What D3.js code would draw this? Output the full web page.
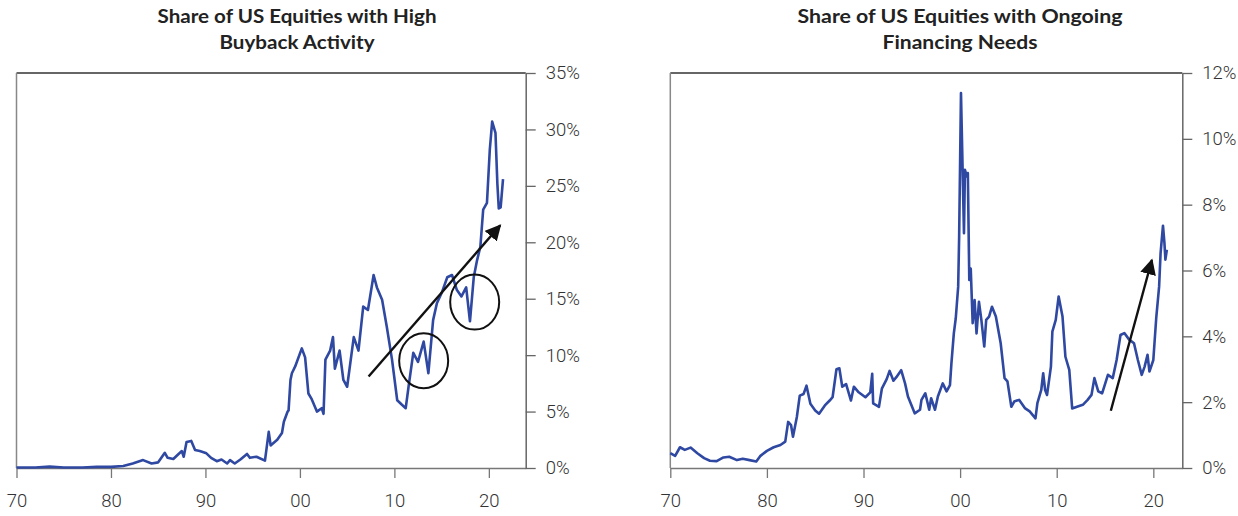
<!DOCTYPE html>
<html lang="en">
    <head>
        <meta charset="utf-8" />
        <title>Buybacks vs Financing Needs</title>
        <script src="https://cdnjs.cloudflare.com/ajax/libs/d3/7.7.0/d3.min.js"></script>
        <style>
          body { margin: 0; background: #fff; }
          .tick text { font-family: "Roboto", "Open Sans", sans-serif; font-weight: 300; font-size: 18.5px; fill: #333; }
          .title { font-family: "Lato", "Open Sans", sans-serif; font-weight: 700; font-size: 18px; fill: #222; }
        </style>
    </head>
    <body>
        <div id="chart"></div>
        <script>
// ---- data (year, % of US equities) ----
const buybackYears = [1970, 1972, 1973.5, 1975, 1977, 1978.5, 1980, 1981.3, 1982.3, 1983.4, 1984.3, 1985, 1985.7, 1986, 1986.6,
  1987.1, 1987.5, 1987.7, 1988, 1988.5, 1988.9, 1989.4, 1990.1, 1990.6, 1991.2, 1991.7, 1992.3, 1992.6, 1993.1, 1993.7,
  1994.4, 1994.7, 1995.4, 1996.3, 1996.7, 1996.9, 1997.6, 1998.1, 1998.3, 1998.7, 1998.8, 1999.0, 1999.15, 1999.5, 2000.2,
  2000.55, 2000.9, 2001.25, 2001.8, 2002.3, 2002.5, 2002.7, 2003.2, 2003.5, 2003.7, 2004.2, 2004.6, 2005.0, 2005.7, 2006.2,
  2006.7, 2007.2, 2007.8, 2008.15, 2008.7, 2009.2, 2009.75, 2010.3, 2010.8, 2011.2, 2011.5, 2012.0, 2012.5, 2013.1, 2013.6,
  2014.1, 2014.5, 2015.0, 2015.6, 2016.1, 2016.6, 2017.1, 2017.6, 2018.0, 2018.4, 2018.75, 2019.1, 2019.4, 2019.8, 2020.1,
  2020.35, 2020.7, 2020.9, 2021.05, 2021.25, 2021.5];
const buybackShare = [0.05, 0.05, 0.12, 0.05, 0.05, 0.1, 0.1, 0.18, 0.4, 0.7, 0.4, 0.5, 1.35, 0.9, 0.8,
  1.2, 1.5, 1.0, 2.3, 2.4, 1.6, 1.5, 1.3, 0.9, 0.6, 0.75, 0.4, 0.7, 0.4, 0.75,
  1.25, 0.9, 1.0, 0.65, 3.2, 2.0, 2.5, 3.1, 4.1, 5.0, 5.1, 7.8, 8.4, 9.0, 10.6,
  9.8, 6.6, 6.1, 5.0, 5.3, 4.8, 9.6, 10.4, 11.6, 8.8, 10.4, 7.8, 7.2, 11.6, 10.4,
  14.3, 14.0, 17.1, 16.0, 14.9, 12.5, 9.6, 6.0, 5.6, 5.3, 7.2, 10.2, 9.4, 11.2, 8.4,
  13.1, 14.6, 15.5, 16.9, 17.1, 15.8, 15.2, 16.0, 13.0, 16.9, 18.4, 19.6, 22.9, 23.5, 28.2,
  30.7, 29.7, 25.2, 23.0, 23.1, 25.6];

const financingYears = [1970.0, 1970.5, 1971.0, 1971.5, 1972.1, 1972.8, 1973.5, 1974.1, 1974.8, 1975.5, 1976.1, 1976.9, 1977.5,
  1978.2, 1978.9, 1979.3, 1980.0, 1980.7, 1981.4, 1981.9, 1982.2, 1982.5, 1982.7, 1983.1, 1983.4, 1983.8, 1984.1, 1984.5,
  1985.0, 1985.4, 1986.0, 1986.5, 1986.8, 1987.2, 1987.5, 1987.8, 1988.2, 1988.7, 1989.0, 1989.5, 1990.2, 1990.7, 1990.9,
  1991.0, 1991.6, 1991.9, 1992.4, 1992.7, 1993.1, 1993.4, 1993.9, 1994.3, 1994.6, 1995.3, 1995.85, 1996.0, 1996.4, 1996.8,
  1997.0, 1997.4, 1997.7, 1998.2, 1998.6, 1998.95, 1999.1, 1999.35, 1999.55, 1999.8, 1999.9, 2000.09, 2000.26, 2000.4,
  2000.5, 2000.7, 2000.8, 2000.95, 2001.1, 2001.3, 2001.5, 2001.7, 2001.95, 2002.2, 2002.5, 2002.7, 2003.0, 2003.3, 2003.7,
  2004.2, 2004.6, 2004.9, 2005.3, 2005.6, 2006.1, 2006.7, 2007.2, 2007.8, 2008.0, 2008.4, 2008.6, 2008.8, 2009.0, 2009.4,
  2009.55, 2009.9, 2010.2, 2010.6, 2010.9, 2011.3, 2011.6, 2012.1, 2012.7, 2013.2, 2013.6, 2013.9, 2014.3, 2014.7, 2015.3,
  2015.8, 2016.2, 2016.6, 2017.0, 2017.5, 2018.0, 2018.4, 2018.8, 2019.1, 2019.4, 2019.6, 2020.0, 2020.3, 2020.6, 2020.75,
  2021.0, 2021.15, 2021.25, 2021.4];
const financingShare = [0.45, 0.37, 0.63, 0.55, 0.62, 0.45, 0.3, 0.22, 0.21, 0.32, 0.34, 0.24, 0.28,
  0.24, 0.2, 0.36, 0.52, 0.63, 0.7, 0.8, 1.4, 1.3, 0.95, 1.55, 2.2, 2.25, 2.5, 1.95,
  1.75, 1.65, 1.9, 2.05, 2.15, 3.0, 3.03, 2.47, 2.55, 2.05, 2.47, 2.3, 2.15, 2.3, 2.86,
  1.96, 1.86, 2.41, 2.7, 2.95, 2.65, 2.76, 2.97, 2.57, 2.17, 1.66, 1.77, 2.07, 2.27, 1.77,
  2.12, 1.77, 2.17, 2.57, 2.33, 2.52, 3.18, 4.09, 4.55, 5.51, 7.03, 11.39, 9.06, 7.13,
  9.06, 8.86, 8.96, 5.71, 6.06, 4.4, 5.1, 4.09, 5.05, 4.5, 3.69, 4.5, 4.6, 4.9, 4.6,
  3.79, 2.73, 2.63, 1.86, 2.02, 2.07, 1.82, 1.72, 1.51, 1.97, 2.37, 2.88, 2.37, 2.22, 3.08,
  4.14, 4.5, 5.21, 4.6, 3.38, 2.98, 1.81, 1.86, 1.92, 2.07, 2.22, 2.73, 2.33, 2.27, 2.83,
  2.73, 3.28, 4.04, 4.1, 3.9, 3.79, 3.28, 2.83, 3.08, 3.44, 2.93, 3.28, 4.55, 5.51, 6.52,
  7.36, 6.84, 6.33, 6.63];

const xTickYears = [1970, 1980, 1990, 2000, 2010, 2020];
const buybackTicks = [0, 5, 10, 15, 20, 25, 30, 35];
const financingTicks = [0, 2, 4, 6, 8, 10, 12];

// annotations, in data units: [year, value]
const buybackArrow = [[2007.27, 8.1], [2021.2, 21.5]];
const buybackCircles = [[2013.1, 9.5], [2018.5, 14.7]];
const financingArrow = [[2015.6, 1.74], [2019.85, 6.32]];

const w = 1238;
const h = 516;
const plotTop = 73, plotBottom = 468;
const blue = "#2f48a1";

const svg = d3.select("#chart").append("svg")
  .attr("width", w).attr("height", h);

// arrow head
svg.append("defs").append("marker")
  .attr("id", "head")
  .attr("viewBox", "0 0 10 10")
  .attr("refX", 9).attr("refY", 5)
  .attr("markerUnits", "userSpaceOnUse")
  .attr("markerWidth", 16).attr("markerHeight", 16)
  .attr("orient", "auto")
  .append("path")
  .attr("d", "M0,0 L10,5 L0,10 Z")
  .attr("fill", "#111");

function panel(cfg) {
  const x = d3.scaleLinear().domain([1970, cfg.endYear]).range([cfg.left, cfg.right]);
  const y = d3.scaleLinear().domain([0, cfg.yMax]).range([plotBottom, plotTop]);
  const g = svg.append("g");

  // title (two lines)
  cfg.title.forEach((t, i) => {
    g.append("text")
      .attr("class", "title")
      .attr("x", cfg.titleX)
      .attr("y", 23 + i * 26)
      .attr("text-anchor", "middle")
      .attr("textLength", cfg.titleW[i])
      .attr("lengthAdjust", "spacingAndGlyphs")
      .text(t);
  });

  // frame: dark top, grey left
  g.append("line")
    .attr("x1", cfg.left).attr("x2", cfg.right)
    .attr("y1", plotTop).attr("y2", plotTop)
    .attr("stroke", "#333").attr("stroke-width", 1.3);
  g.append("line")
    .attr("x1", cfg.left).attr("x2", cfg.left)
    .attr("y1", plotTop).attr("y2", plotBottom)
    .attr("stroke", "#888").attr("stroke-width", 1.5);

  // bottom axis
  const xAxis = g.append("g")
    .attr("transform", "translate(0," + plotBottom + ")")
    .call(d3.axisBottom(x)
      .tickValues(xTickYears)
      .tickSize(10)
      .tickSizeOuter(0)
      .tickPadding(16)
      .tickFormat(d => String(d % 100).padStart(2, "0")));
  xAxis.select(".domain").attr("stroke", "#777").attr("stroke-width", 1.5);
  xAxis.selectAll(".tick line").attr("stroke", "#777").attr("stroke-width", 1.3);

  // right axis
  const yAxis = g.append("g")
    .attr("transform", "translate(" + cfg.right + ",0)")
    .call(d3.axisRight(y)
      .tickValues(cfg.ticks)
      .tickSize(10)
      .tickSizeOuter(0)
      .tickPadding(10)
      .tickFormat(d => d + "%"));
  yAxis.select(".domain").attr("stroke", "#666").attr("stroke-width", 1.5);
  yAxis.selectAll(".tick line").attr("stroke", "#666").attr("stroke-width", 1.3);

  // series
  const pts = cfg.years.map((yr, i) => [yr, cfg.values[i]]);
  g.append("path")
    .datum(pts)
    .attr("fill", "none")
    .attr("stroke", blue)
    .attr("stroke-width", 2.6)
    .attr("stroke-linejoin", "round")
    .attr("d", d3.line().x(d => x(d[0])).y(d => y(d[1])));

  // annotations
  (cfg.circles || []).forEach(c => {
    g.append("ellipse")
      .attr("cx", x(c[0])).attr("cy", y(c[1]))
      .attr("rx", 24.5).attr("ry", 27.5)
      .attr("fill", "none").attr("stroke", "#111").attr("stroke-width", 2);
  });
  const a = cfg.arrow;
  g.append("line")
    .attr("x1", x(a[0][0])).attr("y1", y(a[0][1]))
    .attr("x2", x(a[1][0])).attr("y2", y(a[1][1]))
    .attr("stroke", "#111").attr("stroke-width", 2.4)
    .attr("marker-end", "url(#head)");
}

panel({
  left: 16.5, right: 525.7, endYear: 2023.9,
  yMax: 35, ticks: buybackTicks,
  years: buybackYears, values: buybackShare,
  title: ["Share of US Equities with High", "Buyback Activity"],
  titleX: 297, titleW: [279, 155],
  arrow: buybackArrow, circles: buybackCircles
});

panel({
  left: 670.3, right: 1182.3, endYear: 2023.0,
  yMax: 12, ticks: financingTicks,
  years: financingYears, values: financingShare,
  title: ["Share of US Equities with Ongoing", "Financing Needs"],
  titleX: 960, titleW: [325, 155],
  arrow: financingArrow
});
        </script>
    </body>
</html>
